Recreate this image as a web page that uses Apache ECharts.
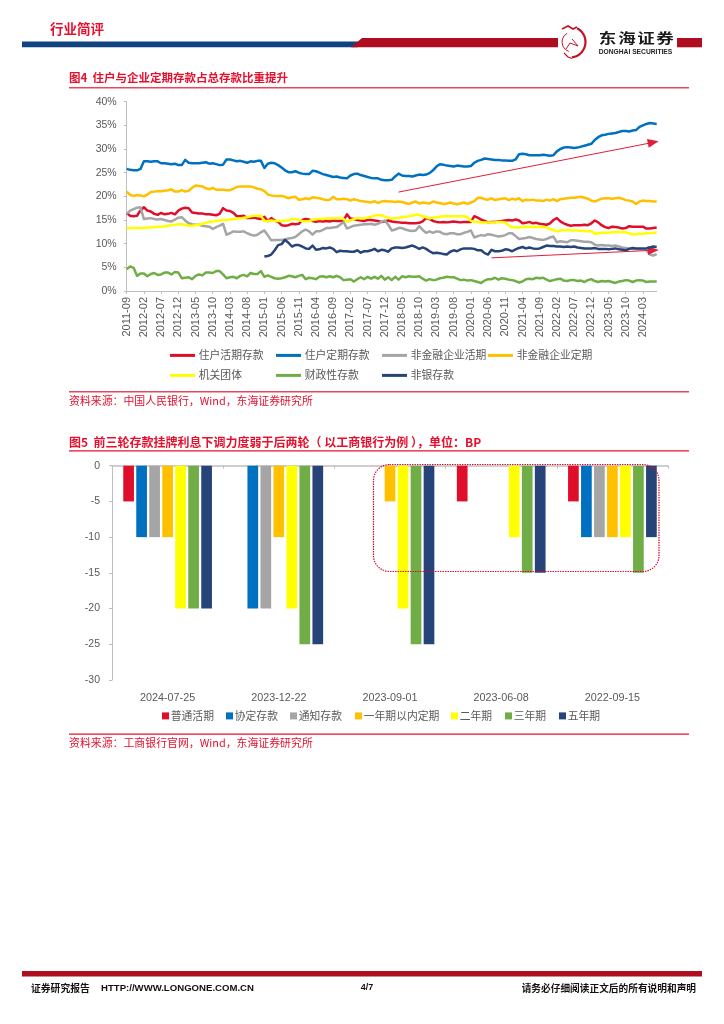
<!DOCTYPE html>
<html><head><meta charset="utf-8">
<style>html,body{margin:0;padding:0;background:#fff}#c{width:724px;height:1024px}</style>
<script src="https://cdn.jsdelivr.net/npm/echarts@6/dist/echarts.min.js"></script>
</head><body><div id="c"></div>
<script>
const FONT='"Liberation Sans","Noto Sans CJK SC",sans-serif';
const CJK='"Noto Sans CJK SC","Liberation Sans",sans-serif';
const firstMonth=[2011,9];
const monthCount=155;
const names1=['住户活期存款','住户定期存款','非金融企业活期','非金融企业定期','机关团体','财政性存款','非银存款'];
const colors=['#DF0F2B','#0070C0','#A5A5A5','#FFC000','#FFFF00','#70AD47','#264478'];
const household=[16.5,15.9,15.8,15.9,17.0,17.7,17.0,16.8,16.3,16.1,16.5,16.2,16.3,16.5,16.2,17.0,17.4,17.6,17.5,16.6,16.5,16.4,16.4,16.2,16.2,16.1,16.0,16.3,17.5,17.0,16.9,16.5,15.8,15.8,15.9,15.4,15.4,15.5,15.3,15.2,15.7,14.8,15.4,14.9,14.6,13.9,13.8,13.9,14.2,14.1,14.2,15.0,15.2,15.1,14.8,14.6,14.8,14.7,14.8,14.7,14.9,14.8,14.8,14.9,16.2,15.3,15.2,15.0,14.9,14.8,15.0,15.0,14.9,14.8,14.6,14.7,14.9,14.7,14.6,14.5,14.4,14.4,14.3,14.3,14.3,14.4,14.7,15.4,15.2,14.8,14.6,14.5,14.6,14.5,14.6,14.7,14.6,14.5,14.6,14.6,14.6,15.8,15.5,15.1,14.8,14.5,14.6,14.6,14.7,14.8,14.9,15.0,14.9,15.1,14.9,14.3,14.4,14.6,14.3,14.4,14.2,14.1,14.0,14.3,15.0,15.4,14.7,14.3,14.0,13.8,13.9,13.9,13.9,14.0,13.9,14.3,14.9,14.5,13.9,13.5,13.3,13.6,13.5,13.4,13.2,13.3,13.7,13.6,13.6,13.6,13.6,13.2,13.2,13.3,13.4];
const householdTime=[25.8,25.6,25.5,25.5,25.8,27.4,27.4,27.3,27.4,27.4,27.0,27.0,26.9,26.8,26.9,26.6,26.6,27.7,27.1,27.0,27.0,27.0,27.1,27.2,26.9,27.0,26.8,26.6,26.7,27.8,27.8,27.6,27.4,27.5,27.3,27.1,27.4,27.3,27.5,27.5,26.0,26.9,27.1,27.0,26.6,26.1,25.5,25.1,25.1,25.3,25.0,24.8,24.7,24.7,25.4,25.3,25.0,24.7,24.5,24.3,24.1,24.2,24.0,23.9,23.8,24.4,24.7,24.8,24.5,24.3,24.1,23.9,23.8,23.8,23.5,23.4,23.4,23.5,24.2,24.8,24.4,24.3,24.3,24.2,24.4,24.6,24.5,24.6,24.9,25.5,26.3,26.8,26.7,26.5,26.4,26.3,26.5,26.4,26.3,26.3,26.4,27.1,27.5,27.7,28.0,27.9,27.8,27.7,27.7,27.6,27.6,27.5,27.5,27.8,28.9,29.0,28.9,28.7,28.7,28.7,28.7,28.8,28.7,28.6,28.7,29.5,30.0,30.3,30.4,30.3,30.2,30.3,30.5,30.7,30.9,31.1,31.9,32.5,32.9,33.0,33.2,33.3,33.4,33.6,33.8,33.8,33.7,33.9,34.0,34.7,35.0,35.3,35.5,35.4,35.3];
const corpDemand=[16.3,17.0,17.3,17.6,17.7,15.2,15.3,15.4,15.2,15.1,15.2,15.0,14.8,14.7,15.1,15.5,15.6,14.9,14.3,14.1,14.0,14.0,13.8,13.7,13.6,13.1,13.5,13.8,14.2,11.9,12.2,12.6,12.5,12.5,12.6,12.2,11.9,11.7,11.9,12.4,12.8,11.8,10.7,10.8,10.8,10.8,10.9,11.1,11.2,11.4,12.0,12.6,13.0,12.6,11.9,12.6,12.6,12.9,13.3,13.3,13.4,13.5,14.0,14.6,13.2,13.5,13.8,13.9,14.0,14.1,14.1,14.2,14.0,14.2,14.6,14.9,14.0,12.8,13.0,13.3,13.3,13.0,12.8,12.7,12.8,13.7,12.9,12.3,12.6,12.3,12.6,12.5,12.1,12.0,12.2,12.2,12.0,12.0,12.3,12.5,12.8,11.3,11.6,11.8,11.7,12.0,11.9,11.7,11.5,11.6,11.8,12.2,12.2,11.6,11.0,11.1,11.2,11.4,11.2,11.0,10.9,10.8,11.0,11.3,11.5,10.3,10.5,10.4,10.3,10.7,10.7,10.6,10.5,10.4,10.4,10.3,9.8,9.6,9.7,9.6,9.6,9.5,9.6,9.4,9.2,9.1,9.0,8.9,8.9,8.8,8.8,8.7,7.7,7.5,7.8];
const corpTime=[21.0,20.3,20.1,20.3,20.2,20.0,20.4,20.9,21.0,21.1,21.1,21.2,21.3,21.5,21.0,21.0,21.3,21.0,21.2,21.8,22.3,22.2,22.1,21.7,21.5,21.8,21.4,21.4,21.4,21.3,21.3,21.6,22.0,22.1,22.1,22.1,22.1,21.9,21.6,21.5,21.1,20.4,20.2,20.1,20.1,20.1,19.9,19.6,19.8,19.9,19.3,19.4,19.6,19.4,19.8,19.7,19.6,19.4,19.2,19.3,19.9,19.4,19.4,19.5,19.4,19.1,19.4,19.2,19.0,18.9,18.8,18.7,19.0,18.6,18.9,19.0,18.9,18.9,18.8,18.9,18.8,18.6,18.4,18.7,18.9,18.5,18.7,18.6,18.5,18.9,18.7,18.6,18.4,18.5,18.7,18.5,18.3,18.5,18.7,18.4,18.7,19.0,19.7,19.7,19.4,19.3,19.6,19.2,19.4,19.5,19.6,19.2,19.5,19.3,19.6,19.0,19.3,19.2,19.3,19.1,19.1,19.0,19.3,19.1,19.4,19.0,19.4,19.5,19.6,19.7,19.7,19.8,19.9,19.7,19.5,19.1,18.9,19.2,19.5,19.6,19.6,19.5,19.6,19.7,19.5,19.2,19.1,18.9,18.4,18.9,19.1,19.0,19.0,18.9,18.9];
const government=[13.2,13.3,13.3,13.3,13.3,13.3,13.4,13.4,13.5,13.6,13.6,13.7,13.8,13.9,14.0,14.1,14.1,14.0,13.8,13.8,13.9,14.0,14.2,14.4,14.6,14.7,14.8,14.9,15.0,15.0,15.1,15.2,15.3,15.3,15.5,15.6,15.8,15.9,15.9,15.9,14.8,14.8,14.9,14.8,14.8,14.8,14.9,14.9,15.2,15.2,15.0,14.8,14.7,14.8,15.0,15.2,15.2,15.2,15.3,15.3,15.3,15.4,15.4,15.2,14.7,14.9,15.2,15.4,15.3,15.4,15.5,15.7,15.9,16.0,16.0,15.7,15.5,15.3,15.4,15.5,15.6,15.7,15.8,15.9,16.1,16.1,15.8,15.6,15.3,15.5,15.6,15.7,15.8,15.8,15.8,15.8,15.8,15.8,15.8,15.6,14.8,14.7,14.6,14.5,14.5,14.5,14.5,14.5,14.6,14.6,14.5,13.8,13.5,13.4,13.4,13.5,13.6,13.6,13.5,13.5,13.5,13.5,13.4,13.1,12.9,12.6,12.8,12.9,12.9,12.8,12.8,12.8,12.7,12.7,12.6,12.7,12.1,12.2,12.3,12.3,12.3,12.4,12.4,12.5,12.4,12.4,12.2,12.0,12.0,12.1,12.1,12.2,12.2,12.3,12.3];
const fiscal=[4.6,5.2,4.9,3.2,3.7,3.7,3.1,3.6,3.8,3.4,3.5,3.9,3.9,3.5,4.0,3.9,2.7,2.8,2.9,2.5,3.2,3.5,3.3,3.9,3.9,3.8,4.2,4.2,3.5,2.7,2.9,3.0,2.7,3.2,3.4,3.1,3.8,3.6,3.6,4.2,3.0,3.3,3.0,2.7,2.6,2.7,2.9,3.2,3.1,2.9,3.2,3.4,2.5,2.8,2.7,2.5,3.0,3.1,2.9,3.1,2.9,3.2,2.9,2.3,2.4,2.5,2.0,2.5,2.9,2.5,3.0,2.6,3.0,2.6,3.2,2.4,2.9,2.3,3.0,2.4,3.1,2.9,3.1,3.0,3.0,3.1,2.6,2.2,2.5,2.3,2.4,2.7,2.8,3.0,2.9,2.9,2.6,2.3,2.4,2.2,2.3,2.1,1.9,1.7,2.2,2.5,2.5,2.8,2.4,2.7,2.6,2.4,2.3,2.1,1.8,2.0,2.5,2.6,2.5,2.8,2.7,2.8,2.4,2.1,2.3,2.5,2.6,2.2,2.1,2.3,2.3,2.1,2.2,1.9,2.3,2.5,2.1,1.9,2.1,2.0,2.1,1.9,1.7,2.0,2.1,2.3,2.2,1.9,2.2,2.3,2.2,1.9,2.0,2.0,2.0];
const nonBankLead=new Array(40).fill(null);
const nonBank=nonBankLead.concat([7.3,7.4,7.7,8.6,9.7,9.9,10.8,10.2,9.4,9.7,9.7,9.4,9.0,8.9,9.6,8.7,8.8,9.1,9.0,9.2,8.9,8.2,8.5,8.4,8.4,8.3,8.3,8.6,8.1,8.4,8.4,8.6,8.9,8.4,8.7,8.6,8.3,9.0,9.2,9.2,9.1,9.2,9.4,9.6,9.3,8.9,9.2,8.9,8.4,8.0,8.1,8.0,7.8,7.7,8.3,8.6,8.4,8.8,9.0,9.0,9.0,8.9,8.6,8.6,8.0,7.7,8.7,8.4,8.4,8.5,8.8,8.7,8.4,8.8,9.1,9.3,9.0,9.2,9.0,8.9,9.0,9.3,9.6,9.5,9.5,9.4,9.4,9.3,9.4,9.3,9.4,9.2,9.1,9.0,9.0,9.0,9.1,8.9,8.9,8.9,8.8,8.9,9.0,8.8,8.7,8.6,8.9,9.1,9.0,9.0,9.0,9.0,9.2,9.4,9.3]);
const values1=[household,householdTime,corpDemand,corpTime,government,fiscal,nonBank];

const dates2=['2024-07-25','2023-12-22','2023-09-01','2023-06-08','2022-09-15'];
const names2=['普通活期','协定存款','通知存款','一年期以内定期','二年期','三年期','五年期'];
const demand=[-5,0,0,-5,-5];
const agreement=[-10,-20,0,0,-10];
const notice=[-10,-20,0,0,-10];
const withinYear=[-10,-10,-5,0,-10];
const twoYear=[-20,-20,-20,-10,-10];
const threeYear=[-20,-25,-25,-15,-15];
const fiveYear=[-20,-25,-25,-15,-10];
const values2=[demand,agreement,notice,withinYear,twoYear,threeYear,fiveYear];

const months=[];
for(let i=0;i<monthCount;i++){
  const t=firstMonth[0]*12+firstMonth[1]-1+i;
  months.push(Math.floor(t/12)+'-'+String(t%12+1).padStart(2,'0'));
}
const RED='#E5102E', LINE='#E8485C', GREY='#595959', AX='#BFBFBF', DRAGON='#C21426';
function txt(text,x,y,size,fill,bold,align,font,extra){
  return Object.assign({type:'text',silent:true,z:20,style:{text:text,x:x,y:y,fontSize:size,fill:fill,fontWeight:bold?'bold':'normal',align:align||'left',verticalAlign:'middle',fontFamily:font||CJK}},extra||{});
}
function rule(x1,x2,y,h,fill){return {type:'rect',silent:true,z:19,shape:{x:x1,y:y,width:x2-x1,height:h},style:{fill:fill}};}
function arc(cx,cy,r,a,b,w){return {type:'arc',silent:true,z:19,shape:{cx:cx,cy:cy,r:r,startAngle:a,endAngle:b},style:{stroke:DRAGON,fill:'none',lineWidth:w}};}
function poly(points,w){return {type:'polyline',silent:true,z:19,shape:{points:points},style:{stroke:DRAGON,fill:'none',lineWidth:w}};}
const logoChars=['东','海','证','券'];
const logoCharX=[607.5,627,646,665];
const graphics=[
 txt('行业简评',50,29,13.5,RED,true),
 rule(22,358,41.5,5.8,'#11437F'),
 {type:'polygon',silent:true,z:19,shape:{points:[[351,47.3],[362,38],[558,38],[558,47.3]]},style:{fill:'#AF0E20'}},
 rule(677,702,38,9.3,'#AF0E20'),
 arc(570,42,15.5,-1.1,1.45,2.2),
 arc(572,42,10,1.9,4.2,1),
 poly([[562,29],[568,26],[573,29],[577,27]],1.8),
 poly([[566,49],[570,43],[578,46],[572,39]],1),
 poly([[564,53],[568,57],[572,58.5]],1.2),
 logoChars.map((c,i)=>txt(c,logoCharX[i],38,17.5,'#1A1A1A',true,'center',CJK,{scaleY:.75,originY:38,originX:logoCharX[i]})),
 txt('DONGHAI SECURITIES',635.5,52,6.7,'#222',true,'center',FONT),
 txt('图4  住户与企业定期存款占总存款比重提升',69,78,11.5,RED,true),
 rule(69,689,87,1.4,LINE),
 rule(69,689,391,1.4,LINE),
 txt('资料来源\uFF1A中国人民银行\uFF0CWind\uFF0C东海证券研究所',69,400.5,10.9,RED,false),
 txt('图5  前三轮存款挂牌利息下调力度弱于后两轮\uFF08 以工商银行为例 \uFF09\uFF0C单位\uFF1ABP',69,442,12,RED,true),
 rule(69,689,450.3,1.2,RED),
 rule(69,689,733.5,1.2,RED),
 txt('资料来源\uFF1A工商银行官网\uFF0CWind\uFF0C东海证券研究所',69,743,10.9,RED,false),
 {type:'rect',silent:true,z:15,shape:{x:373.5,y:464.5,width:285.5,height:107,r:16},style:{fill:'none',stroke:'#E00020',lineWidth:1.2,lineDash:[1.4,1.1]}},
 rule(22,702,971,5.5,'#AF0E20'),
 txt('证券研究报告',31,988,9.8,'#111',true),
 txt('HTTP://WWW.LONGONE.COM.CN',101,988,9.6,'#111',true,'left',FONT),
 txt('4/7',367,988,9,'#111',true,'center',FONT),
 txt('请务必仔细阅读正文后的所有说明和声明',696,988,9.7,'#111',true,'right')
].flat();
const legendX=[170,276,382,488,170,276,382];
const legendY=[350,350,350,350,370,370,370];
const legends=names1.map((n,i)=>({data:[n],left:legendX[i],top:legendY[i],icon:'rect',itemWidth:22.5,itemHeight:0.5,itemGap:0,selectedMode:false,padding:0,
  itemStyle:{borderWidth:2.5,borderColor:colors[i],color:colors[i]},
  textStyle:{fontSize:10.8,color:GREY,fontFamily:CJK}}));
const legend2X=[162,226,290,355,451,505,559];
names2.forEach((n,i)=>legends.push({data:[n],left:legend2X[i],top:710.5,icon:'rect',itemWidth:0.5,itemHeight:0.5,itemGap:0,selectedMode:false,padding:0,
  itemStyle:{borderWidth:6.5,borderColor:colors[i],color:colors[i]},
  textStyle:{fontSize:10.8,color:GREY,fontFamily:CJK}}));

const lineSeries=names1.map((n,i)=>({name:n,type:'line',xAxisIndex:0,yAxisIndex:0,data:values1[i],symbol:'none',showSymbol:false,connectNulls:false,
    lineStyle:{color:colors[i],width:2.5,join:'round'},itemStyle:{color:colors[i]},z:2+i}));
const arrow=(a,b)=>({silent:true,symbol:['none','triangle'],symbolSize:[9,11],precision:2,animation:false,label:{show:false},
  lineStyle:{color:'#DF1F3A',width:1,type:'solid'},itemStyle:{color:'#DF0F2B'},data:[[{coord:a},{coord:b}]]});
lineSeries[1].markLine=arrow([79,20.9],[153.3,31.4]);
lineSeries[6].markLine=arrow([106.3,7.0],[153.3,8.6]);

const barSeries=names2.map((n,i)=>({name:n,type:'bar',xAxisIndex:1,yAxisIndex:1,data:values2[i],barWidth:10.7,barGap:'21.5%',
  itemStyle:{color:colors[i]},z:3}));

const chart=echarts.init(document.getElementById('c'),null,{renderer:'canvas'});
chart.setOption({
  animation:false,backgroundColor:'#fff',textStyle:{fontFamily:FONT},
  graphic:{elements:graphics},
  legend:legends,
  grid:[{left:126.7,right:67.3,top:101.7,bottom:733,containLabel:false},{left:112,right:56,top:465.7,bottom:344,containLabel:false}],
  xAxis:[
   {type:'category',gridIndex:0,data:months,boundaryGap:false,
    axisLine:{lineStyle:{color:AX,width:1}},axisTick:{interval:4,length:3,lineStyle:{color:AX}},
    axisLabel:{interval:4,rotate:90,fontSize:11,color:GREY,margin:6,fontFamily:FONT}},
   {type:'category',gridIndex:1,data:dates2,position:'bottom',axisLine:{show:false,onZero:false},axisTick:{show:false},
    axisLabel:{fontSize:10.8,color:GREY,margin:13,fontFamily:FONT}},
   {type:'category',gridIndex:1,data:dates2,position:'top',axisLine:{show:true,onZero:false,lineStyle:{color:AX,width:1.5}},
    axisTick:{show:true,inside:true,length:3,lineStyle:{color:AX}},axisLabel:{show:false}}
  ],
  yAxis:[
   {type:'value',gridIndex:0,min:0,max:40,interval:5,splitLine:{show:false},
    axisLine:{show:true,lineStyle:{color:AX}},axisTick:{show:true,length:3,lineStyle:{color:AX}},
    axisLabel:{formatter:'{value}%',fontSize:10.5,color:GREY,margin:10,fontFamily:FONT}},
   {type:'value',gridIndex:1,min:-30,max:0,interval:5,splitLine:{show:false},
    axisLine:{show:true,onZero:false,lineStyle:{color:AX}},axisTick:{show:true,length:3,lineStyle:{color:AX}},
    axisLabel:{fontSize:10.5,color:GREY,margin:12,fontFamily:FONT}}
  ],
  series:lineSeries.concat(barSeries)
});
</script></body></html>
